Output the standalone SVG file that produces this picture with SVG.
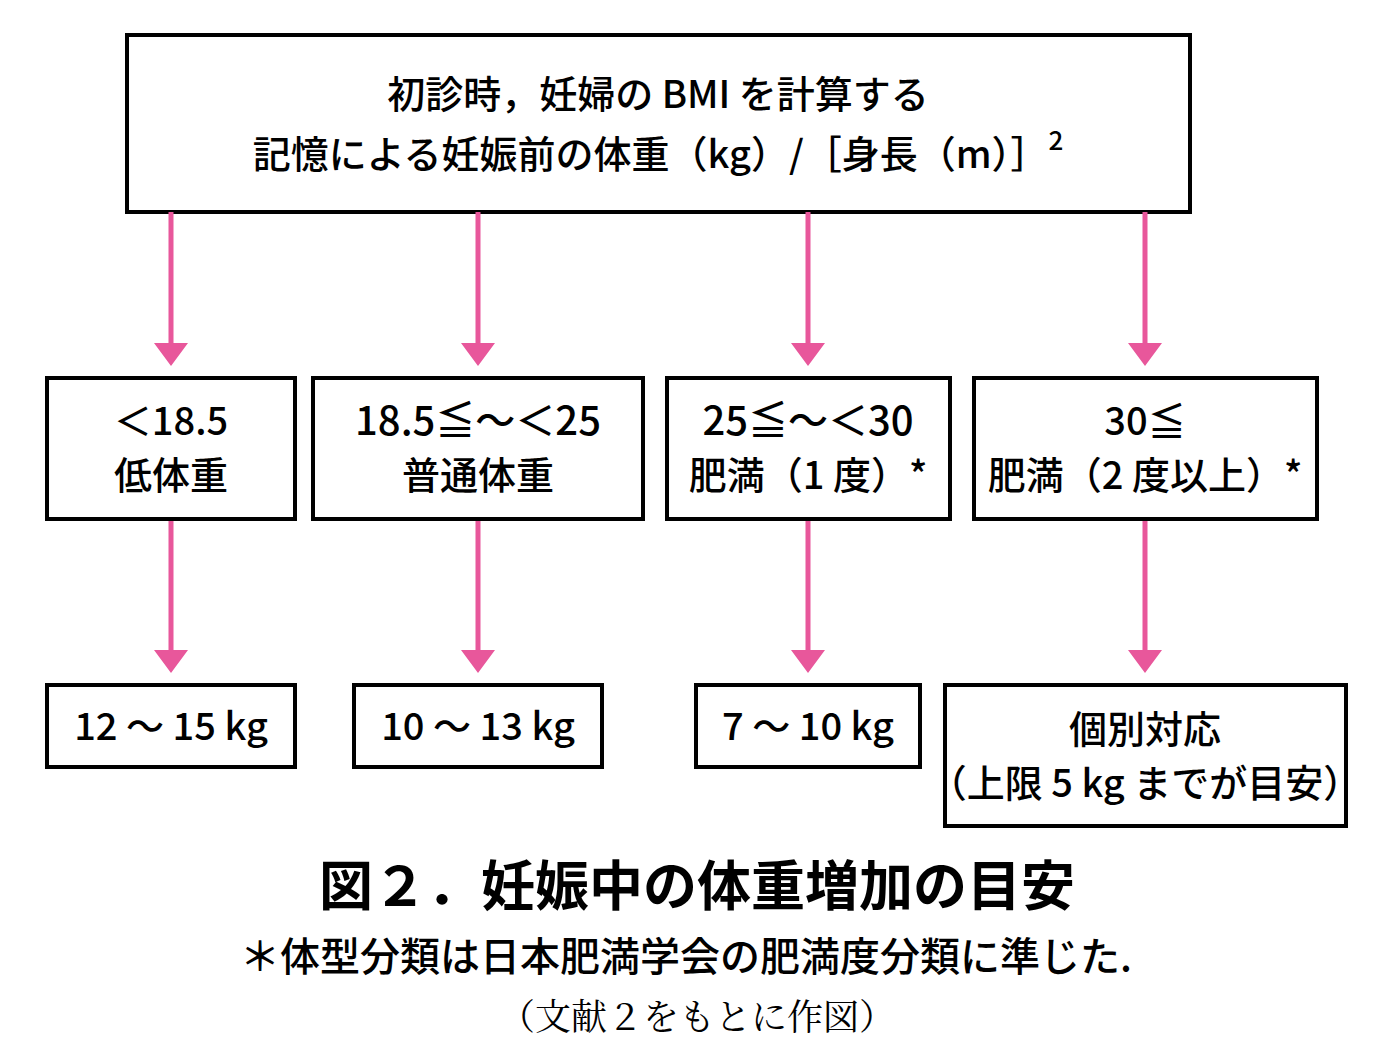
<svg xmlns="http://www.w3.org/2000/svg" width="1394" height="1063" viewBox="0 0 1394 1063">
<style>
.b{fill:#fff;stroke:#000;stroke-width:4}
.t{font-family:"Noto Sans CJK JP","Noto Sans",sans-serif;font-size:38px;text-anchor:middle;fill:#000;font-weight:500}
.a{stroke:#e8579b;stroke-width:5;fill:none}
.h{fill:#e8579b}
</style>
<rect width="1394" height="1063" fill="#fff"/>
<g id="top"><rect class="b" x="127" y="35" width="1063" height="177"/>
<text class="t" x="658" y="108">初診時，妊婦の BMI を計算する</text>
<text class="t" x="658" y="168">記憶による妊娠前の体重（kg）/［身長（m）］<tspan style="font-size:26px" dy="-18">2</tspan></text></g>
<g id="connectors">
<path class="a" d="M171 212V345M478 212V345M808 212V345M1145 212V345M171 519V652M478 519V652M808 519V652M1145 519V652"/>
<path class="h" d="M154 343h34l-17 23zM461 343h34l-17 23zM791 343h34l-17 23zM1128 343h34l-17 23zM154 650h34l-17 23zM461 650h34l-17 23zM791 650h34l-17 23zM1128 650h34l-17 23z"/>
</g>
<g id="m1"><rect class="b" x="47" y="378" width="248" height="141"/><text class="t" x="171" y="435">＜18.5</text><text class="t" x="171" y="489">低体重</text></g>
<g id="m2"><rect class="b" x="313" y="378" width="330" height="141"/><text class="t" x="478" y="435" style="font-size:40px">18.5≦～＜25</text><text class="t" x="478" y="489">普通体重</text></g>
<g id="m3"><rect class="b" x="667" y="378" width="283" height="141"/><text class="t" x="808" y="435" style="font-size:40px">25≦～＜30</text><text class="t" x="808" y="489">肥満（1 度）*</text></g>
<g id="m4"><rect class="b" x="974" y="378" width="343" height="141"/><text class="t" x="1145" y="435">30≦</text><text class="t" x="1145" y="489">肥満（2 度以上）*</text></g>
<g id="b1"><rect class="b" x="47" y="685" width="248" height="82"/><text class="t" x="171" y="740">12 ～ 15 kg</text></g>
<g id="b2"><rect class="b" x="354" y="685" width="248" height="82"/><text class="t" x="478" y="740">10 ～ 13 kg</text></g>
<g id="b3"><rect class="b" x="696" y="685" width="224" height="82"/><text class="t" x="808" y="740">7 ～ 10 kg</text></g>
<g id="b4"><rect class="b" x="945" y="685" width="401" height="141"/><text class="t" x="1145" y="743">個別対応</text><text class="t" x="1145" y="797">（上限 5 kg までが目安）</text></g>
<text class="t" x="697" y="906" style="font-size:54px;font-weight:700">図２．妊娠中の体重増加の目安</text>
<text class="t" x="686" y="971" style="font-size:40px">＊体型分類は日本肥満学会の肥満度分類に準じた.</text>
<text x="697" y="1030" text-anchor="middle" font-family="'Noto Serif CJK JP','Liberation Serif','Noto Sans CJK JP',serif" font-size="36">（文献２をもとに作図）</text>
</svg>
